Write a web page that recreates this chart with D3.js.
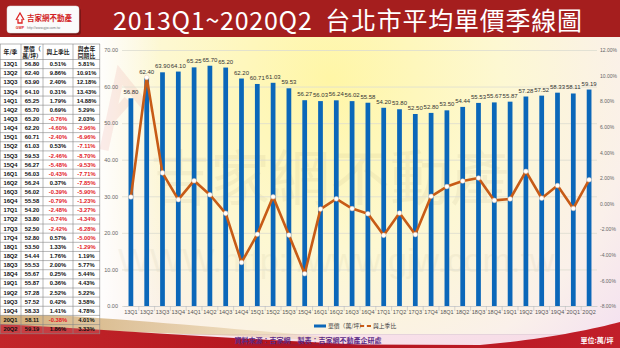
<!DOCTYPE html>
<html>
<head>
<meta charset="utf-8">
<script src="https://cdn.jsdelivr.net/npm/d3@7/dist/d3.min.js"></script>
<style>
  html, body { margin: 0; padding: 0; background: #fff; }
  svg { display: block; }
</style>
</head>
<body>
<svg id="chart" width="620" height="348"></svg>
<script>
// Quarterly data: Taipei average unit price (萬/坪) and change rates
const quarters = ["13Q1","13Q2","13Q3","13Q4","14Q1","14Q2","14Q3","14Q4","15Q1","15Q2",
  "15Q3","15Q4","16Q1","16Q2","16Q3","16Q4","17Q1","17Q2","17Q3","17Q4",
  "18Q1","18Q2","18Q3","18Q4","19Q1","19Q2","19Q3","19Q4","20Q1","20Q2"];
const unitPrice = [56.80,62.40,63.90,64.10,65.25,65.70,65.20,62.20,60.71,61.03,
  59.53,56.27,56.03,56.24,56.02,55.58,54.20,53.80,52.50,52.80,
  53.50,54.44,55.53,55.67,55.87,57.28,57.52,58.33,58.11,59.19];
const qoqChange = [0.51,9.86,2.40,0.31,1.79,0.69,-0.76,-4.60,-2.40,0.53,
  -2.46,-5.48,-0.43,0.37,-0.39,-0.79,-2.48,-0.74,-2.42,0.57,
  1.33,1.76,2.00,0.25,0.36,2.52,0.42,1.41,-0.38,1.86];
const yoyChange = [5.81,10.91,12.18,13.43,14.88,5.29,2.03,-2.96,-6.96,-7.11,
  -8.70,-9.53,-7.71,-7.85,-5.90,-1.23,-3.27,-4.34,-6.28,-5.00,
  -1.29,1.19,5.77,5.44,4.43,5.22,3.58,4.78,4.01,3.33];
const priceTicks = [0,10,20,30,40,50,60,70];
const pctTicks = [-8,-6,-4,-2,0,2,4,6,8,10,12];
const titleText = "2013Q1~2020Q2  台北市平均單價季線圖";
const legendLabels = ["單價（萬/坪）", "與上季比"];
const tableHeaders = [["年/季"], ["單價（", "萬/坪）"], ["與上季比"], ["與去年", "同期比"]];

const CJK = "'Noto Sans CJK TC', 'Noto Sans', sans-serif";
const LAT = "'Liberation Sans', Arial, sans-serif";
const BLUE = "#0b67b9", ORANGE = "#c75b16", RED = "#a51e1e";

const svg = d3.select("#chart");
const defs = svg.append("defs");

// ---------- backgrounds ----------
const bg = defs.append("radialGradient").attr("id", "bgGrad")
  .attr("gradientUnits", "userSpaceOnUse").attr("cx", 330).attr("cy", 80).attr("r", 380);
bg.append("stop").attr("offset", 0).attr("stop-color", "#fff6a6");
bg.append("stop").attr("offset", 0.45).attr("stop-color", "#fdf8d2");
bg.append("stop").attr("offset", 0.8).attr("stop-color", "#faf0ea");
bg.append("stop").attr("offset", 1).attr("stop-color", "#f4e2f0");
svg.append("rect").attr("width", 620).attr("height", 348).attr("fill", "#fff");
svg.append("rect").attr("x", 100).attr("y", 36).attr("width", 520).attr("height", 300).attr("fill", "url(#bgGrad)");
const leftBg = defs.append("linearGradient").attr("id", "leftFade").attr("x1", 0).attr("x2", 1);
leftBg.append("stop").attr("offset", 0).attr("stop-color", "#fff").attr("stop-opacity", 0.9);
leftBg.append("stop").attr("offset", 1).attr("stop-color", "#fff").attr("stop-opacity", 0);
svg.append("rect").attr("x", 100).attr("y", 36).attr("width", 60).attr("height", 300).attr("fill", "url(#leftFade)");

// faint watermark behind the plot
const wm = svg.append("g").attr("pointer-events", "none");
wm.append("path").attr("d", "M104,150 L120,75 L150,112 M112,118 L128,100")
  .attr("fill", "none").attr("stroke", "#d9534f").attr("stroke-width", 9).attr("opacity", 0.1);
wm.append("text").attr("x", 330).attr("y", 200).attr("text-anchor", "middle")
  .attr("font-family", CJK).attr("font-size", 60).attr("fill", "#8a7a50").attr("opacity", 0.07)
  .text("吉家網不動產");
wm.append("text").attr("x", 118).attr("y", 272).attr("text-anchor", "start")
  .attr("font-family", LAT).attr("font-size", 34).attr("fill", "#8a7a50").attr("opacity", 0.06)
  .text("WWW.http://www.gjw.com.tw");

// ---------- bottom decoration ----------
const footBg = defs.append("linearGradient").attr("id", "footGrad").attr("x1", 0).attr("x2", 1);
footBg.append("stop").attr("offset", 0).attr("stop-color", "#fbe9ef");
footBg.append("stop").attr("offset", 1).attr("stop-color", "#f6dbe6");
svg.append("rect").attr("x", 0).attr("y", 334).attr("width", 620).attr("height", 14).attr("fill", "url(#footGrad)");
svg.append("line").attr("x1", 100).attr("x2", 620).attr("y1", 334.5).attr("y2", 334.5)
  .attr("stroke", "#e6d3dc").attr("stroke-width", 1);
const tanGrad = defs.append("linearGradient").attr("id", "tanGrad").attr("x1", 0).attr("x2", 1);
tanGrad.append("stop").attr("offset", 0).attr("stop-color", "#c9a063");
tanGrad.append("stop").attr("offset", 1).attr("stop-color", "#e8d0a8").attr("stop-opacity", 0.3);
svg.append("path")
  .attr("d", "M0,312 C90,316 200,326 340,338 L340,341 C200,334 90,330 0,328 Z")
  .attr("fill", "url(#tanGrad)");
const redGrad = defs.append("linearGradient").attr("id", "redGrad").attr("x1", 0).attr("x2", 1);
redGrad.append("stop").attr("offset", 0).attr("stop-color", "#c2262a");
redGrad.append("stop").attr("offset", 0.5).attr("stop-color", "#b3141e");
redGrad.append("stop").attr("offset", 1).attr("stop-color", "#c11f2a");
svg.append("path")
  .attr("d", "M0,324 C110,330 220,338 360,344.5 L480,345 C540,340 590,330 620,322 L620,348 L0,348 Z")
  .attr("fill", "url(#redGrad)");

// ---------- title bar ----------
svg.append("rect").attr("x", 0).attr("y", 0).attr("width", 620).attr("height", 37).attr("fill", RED);
svg.append("text").attr("x", 113).attr("y", 29.5).attr("text-anchor", "start")
  .attr("font-family", CJK).attr("font-size", 25).style("white-space", "pre")
  .attr("textLength", 469).attr("lengthAdjust", "spacing").attr("fill", "#fff")
  .text(titleText);

// logo badge
const logo = svg.append("g");
logo.append("rect").attr("x", 8).attr("y", 7).attr("width", 72).attr("height", 27).attr("rx", 3)
  .attr("fill", "#000").attr("opacity", 0.25).attr("transform", "translate(1,1)");
logo.append("rect").attr("x", 7).attr("y", 6).attr("width", 72).attr("height", 27).attr("rx", 3)
  .attr("fill", "#fbfbfb").attr("stroke", "#ddd").attr("stroke-width", 0.5);
logo.append("path").attr("d", "M16,20 L20,13 L24,20 M18,19 L18,23 L22,23 L22,19")
  .attr("fill", "none").attr("stroke", "#d22").attr("stroke-width", 1.3);
logo.append("text").attr("x", 20).attr("y", 29).attr("text-anchor", "middle")
  .attr("font-family", LAT).attr("font-size", 3.5).attr("font-weight", "bold").attr("fill", "#d22").text("GWP");
logo.append("text").attr("x", 27).attr("y", 21).attr("font-family", CJK).attr("font-size", 7.5)
  .attr("font-weight", "bold").attr("fill", "#d21f26").text("吉家網不動產");
logo.append("text").attr("x", 27).attr("y", 28.5).attr("font-family", LAT).attr("font-size", 3.4)
  .attr("fill", "#777").text("http://www.gjw.com.tw");

// ---------- chart scales ----------
const x = d3.scaleBand().domain(quarters).range([123, 597]).paddingInner(0.7).paddingOuter(0.35);
const yL = d3.scaleLinear().domain([0, 70]).range([306, 50]);
const yR = d3.scaleLinear().domain([-8, 12]).range([306, 50]);
const cx = q => x(q) + x.bandwidth() / 2;

// gridlines
svg.append("g").selectAll("line").data(priceTicks).join("line")
  .attr("x1", 122).attr("x2", 597)
  .attr("y1", d => yL(d) + 0.5).attr("y2", d => yL(d) + 0.5)
  .attr("stroke", "#dcdcd0").attr("stroke-width", 0.8);

// left axis
const axL = svg.append("g").attr("transform", "translate(121,0)")
  .call(d3.axisLeft(yL).tickValues(priceTicks).tickSize(0).tickPadding(3).tickFormat(d => d.toFixed(2)));
axL.select(".domain").remove();
axL.selectAll("text").attr("font-family", LAT).attr("font-size", 5.5).attr("fill", "#666");

// right axis
const axR = svg.append("g").attr("transform", "translate(598,0)")
  .call(d3.axisRight(yR).tickValues(pctTicks).tickSize(0).tickPadding(2).tickFormat(d => d.toFixed(2) + "%"));
axR.select(".domain").remove();
axR.selectAll("text").attr("font-family", LAT).attr("font-size", 5).attr("fill", "#666");

// bottom axis
const axB = svg.append("g").attr("transform", "translate(0,306)")
  .call(d3.axisBottom(x).tickSize(0).tickPadding(4));
axB.select(".domain").attr("stroke", "#cfcfcf");
axB.selectAll("text").attr("font-family", LAT).attr("font-size", 5.5).attr("fill", "#555");
// category separators
svg.append("g").selectAll("line").data(quarters.slice(1)).join("line")
  .attr("x1", d => x(d) - x.step() * 0.35).attr("x2", d => x(d) - x.step() * 0.35)
  .attr("y1", 306).attr("y2", 311).attr("stroke", "#bbb").attr("stroke-width", 0.6);

// bars
svg.append("g").selectAll("rect").data(quarters).join("rect")
  .attr("x", d => x(d)).attr("width", x.bandwidth())
  .attr("y", (d, i) => yL(unitPrice[i])).attr("height", (d, i) => yL(0) - yL(unitPrice[i]))
  .attr("fill", BLUE);

// bar value labels
svg.append("g").selectAll("text").data(quarters).join("text")
  .attr("x", d => cx(d)).attr("y", (d, i) => yL(unitPrice[i]) - 4)
  .attr("text-anchor", "middle").attr("font-family", LAT).attr("font-size", 6).attr("fill", "#333")
  .text((d, i) => unitPrice[i].toFixed(2));

// quarter-over-quarter line
const line = d3.line().x((d, i) => cx(quarters[i])).y(d => yR(d));
svg.append("path").datum(qoqChange).attr("d", line)
  .attr("fill", "none").attr("stroke", ORANGE).attr("stroke-width", 2.6).attr("stroke-linejoin", "round");
svg.append("g").selectAll("circle").data(qoqChange).join("circle")
  .attr("cx", (d, i) => cx(quarters[i])).attr("cy", d => yR(d)).attr("r", 2.3)
  .attr("fill", "#fff").attr("stroke", "#e8c8b0").attr("stroke-width", 0.5);

// legend
const lg = svg.append("g").attr("font-family", CJK).attr("font-size", 5.8).attr("fill", "#444");
lg.append("line").attr("x1", 314).attr("x2", 326).attr("y1", 326).attr("y2", 326)
  .attr("stroke", BLUE).attr("stroke-width", 3);
lg.append("text").attr("x", 328).attr("y", 328).text(legendLabels[0]);
lg.append("line").attr("x1", 360).attr("x2", 371).attr("y1", 326).attr("y2", 326)
  .attr("stroke", ORANGE).attr("stroke-width", 2);
lg.append("circle").attr("cx", 365.5).attr("cy", 326).attr("r", 1.5).attr("fill", "#fff");
lg.append("text").attr("x", 373).attr("y", 328).text(legendLabels[1]);

// ---------- data table ----------
const colX = [0, 21, 43, 73, 100];
const headTop = 44, headBot = 59.5, rowH = 9.14;
const tbl = svg.append("g");
tbl.append("rect").attr("x", 0).attr("y", headTop).attr("width", 100).attr("height", headBot - headTop)
  .attr("fill", "#fff");
tbl.selectAll("rect.row").data(quarters).join("rect").attr("class", "row")
  .attr("x", 0).attr("width", 100)
  .attr("y", (d, i) => headBot + i * rowH).attr("height", rowH)
  .attr("fill", "#fff").attr("fill-opacity", (d, i) => i >= 28 ? 0.12 : 0.95);
// header text
tableHeaders.forEach((lines, c) => {
  const mid = (colX[c] + colX[c + 1]) / 2;
  const y0 = lines.length === 1 ? 54 : 50.5;
  lines.forEach((t, k) => {
    tbl.append("text").attr("x", mid).attr("y", y0 + k * 7.5).attr("text-anchor", "middle")
      .attr("font-family", CJK).attr("font-size", 5.8).attr("font-weight", "bold").attr("fill", "#222").text(t);
  });
});
// body text
const cols = [
  (i) => ({ t: quarters[i], neg: false }),
  (i) => ({ t: unitPrice[i].toFixed(2), neg: false }),
  (i) => ({ t: qoqChange[i].toFixed(2) + "%", neg: qoqChange[i] < 0 }),
  (i) => ({ t: yoyChange[i].toFixed(2) + "%", neg: yoyChange[i] < 0 })
];
cols.forEach((f, c) => {
  const mid = (colX[c] + colX[c + 1]) / 2;
  tbl.append("g").selectAll("text").data(quarters).join("text")
    .attr("x", mid).attr("y", (d, i) => headBot + i * rowH + 6.6)
    .attr("text-anchor", "middle").attr("font-family", LAT).attr("font-size", 5.8).attr("font-weight", "bold")
    .attr("fill", (d, i) => f(i).neg ? "#e3191f" : "#111")
    .text((d, i) => f(i).t);
});
// grid lines of the table
const hLines = [headTop, headBot].concat(quarters.map((d, i) => headBot + (i + 1) * rowH));
tbl.append("g").selectAll("line").data(hLines).join("line")
  .attr("x1", 0).attr("x2", 100).attr("y1", d => d).attr("y2", d => d)
  .attr("stroke", "#888").attr("stroke-width", 0.6);
tbl.append("g").selectAll("line").data(colX).join("line")
  .attr("x1", d => Math.min(Math.max(d, 0.3), 99.7)).attr("x2", d => Math.min(Math.max(d, 0.3), 99.7))
  .attr("y1", headTop).attr("y2", hLines[hLines.length - 1])
  .attr("stroke", "#888").attr("stroke-width", 0.6);

// ---------- footer ----------
svg.append("text").attr("x", 308).attr("y", 343).attr("text-anchor", "middle")
  .attr("font-family", CJK).attr("font-size", 7).attr("font-weight", "bold").attr("fill", "#5b2a86")
  .text("資料來源：吉家網　製表：吉家網不動產企研處");
svg.append("line").attr("x1", 238).attr("x2", 380).attr("y1", 345).attr("y2", 345)
  .attr("stroke", "#5b2a86").attr("stroke-width", 0.5).attr("opacity", 0.6);
svg.append("text").attr("x", 597).attr("y", 343).attr("text-anchor", "middle")
  .attr("font-family", CJK).attr("font-size", 7).attr("font-weight", "bold").attr("fill", "#fff")
  .text("單位:萬/坪");
</script>
</body>
</html>
